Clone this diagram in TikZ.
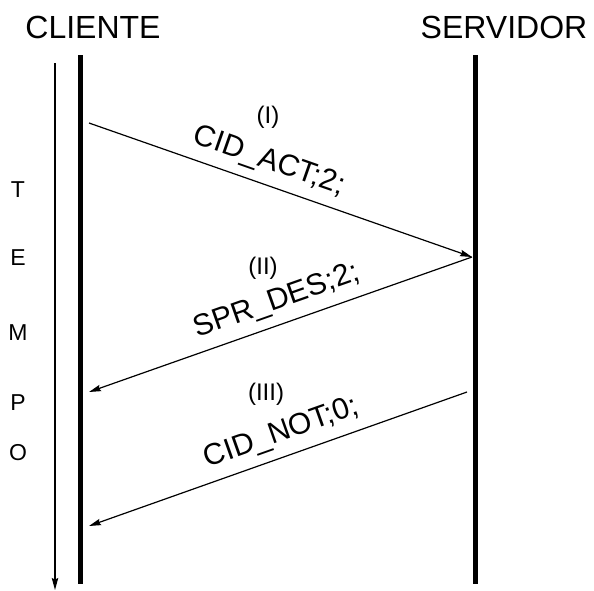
\documentclass[tikz,border=0pt]{standalone}
\usepackage{fontspec}
\setmainfont{Liberation Sans}
\usetikzlibrary{arrows.meta,positioning}

\tikzset{
  actor/.style={inner sep=0pt,font=\fontsize{16}{19}\selectfont},
  lifeline/.style={line width=2.5pt},
  tip/.style={-{Stealth[length=6pt,width=3.2pt,inset=0.8pt]}},
  msg/.style={line width=0.6pt,tip},
  timeaxis/.style={line width=0.6pt,tip},
  msglabel/.style={sloped,above=4.5pt,inner sep=0pt,font=\fontsize{15}{18}\selectfont},
  msgnum/.style={inner sep=0pt,font=\fontsize{12}{14}\selectfont},
  tempo/.style={inner sep=0pt,font=\fontsize{11.5}{13}\selectfont},
}

\begin{document}
\begin{tikzpicture}[x=0.5pt,y=-0.5pt]
  \useasboundingbox (0,0) rectangle (594,590);

  \node[actor] (cliente) at (93,27) {CLIENTE};
  \node[actor] (servidor) at (504,27) {SERVIDOR};

  % lifelines
  \coordinate (c top) at (80,55);
  \coordinate (c bot) at (80,584);
  \coordinate (s top) at (475,55);
  \coordinate (s bot) at (475,584);
  \draw[lifeline] (c top) -- (c bot);
  \draw[lifeline] (s top) -- (s bot);

  % time goes down
  \coordinate (t top) at (55,63);
  \coordinate (t bot) at (55,590);
  \draw[timeaxis] (t top) -- (t bot);
  \foreach \l/\y in {T/190,E/258,M/333,P/403,O/453}
    \node[tempo] (tempo-\l) at (18,\y) {\l};

  % message ends
  \coordinate (c1) at (89,123);
  \coordinate (s1) at (472,257);
  \coordinate (c2) at (89,392);
  \coordinate (s3) at (467,392);
  \coordinate (c3) at (89,526);

  \draw[msg] (c1) -- node[msglabel,pos=.45] (m1) {CID\_ACT;2;} (s1);
  \draw[msg] (s1) -- node[msglabel,pos=.49] (m2) {SPR\_DES;2;} (c2);
  \draw[msg] (s3) -- node[msglabel,pos=.47] (m3) {CID\_NOT;0;} (c3);

  \node[msgnum] (n1) at (268,117) {(I)};
  \node[msgnum] (n2) at (263,268) {(II)};
  \node[msgnum] (n3) at (266,394) {(III)};
\end{tikzpicture}
\end{document}
